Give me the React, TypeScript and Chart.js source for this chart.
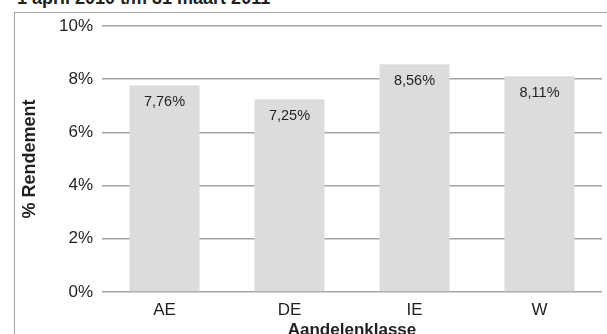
import React, { useEffect, useRef } from "react";
import { Chart, registerables } from "chart.js";

Chart.register(...registerables);

const categories = ["AE", "DE", "IE", "W"];
const returns = [7.76, 7.25, 8.56, 8.11];
const returnLabels = ["7,76%", "7,25%", "8,56%", "8,11%"];
const yTicks = [0, 2, 4, 6, 8, 10];
const titleText = "1 april 2010 t/m 31 maart 2011";
const yTitle = "% Rendement";
const xTitle = "Aandelenklasse";

const FONT = "'Liberation Sans', Arial, Helvetica, sans-serif";
const TEXT = "#231f20";

const barLabelPlugin = {
  id: "barLabels",
  afterDatasetsDraw(chart: any) {
    const ctx = chart.ctx;
    const meta = chart.getDatasetMeta(0);
    ctx.save();
    ctx.font = `14.5px ${FONT}`;
    ctx.fillStyle = TEXT;
    ctx.textAlign = "center";
    ctx.textBaseline = "middle";
    meta.data.forEach((bar: any, i: number) => {
      ctx.fillText(returnLabels[i], bar.x, bar.y + 16.5);
    });
    ctx.restore();
  },
};

export default function App() {
  const ref = useRef<HTMLCanvasElement>(null);
  useEffect(() => {
    if (!ref.current) return;
    const chart = new Chart(ref.current, {
      type: "bar",
      data: {
        labels: categories,
        datasets: [
          {
            data: returns,
            backgroundColor: "#dcdcde",
            borderWidth: 0,
            categoryPercentage: 1,
            barPercentage: 0.56,
          },
        ],
      },
      options: {
        responsive: false,
        animation: false,
        layout: { padding: { top: 26, right: 5, left: 0, bottom: 0 } },
        plugins: { legend: { display: false }, tooltip: { enabled: false }, title: { display: false } },
        scales: {
          x: {
            grid: { display: false },
            border: { display: false },
            ticks: { font: { size: 17, family: FONT }, color: TEXT, padding: 0 },
            title: {
              display: true,
              text: xTitle,
              font: { size: 17, weight: "bold", family: FONT },
              color: TEXT,
              padding: { top: 0, bottom: 4 },
            },
            afterFit: (s: any) => {
              s.height = 53;
            },
          },
          y: {
            min: 0,
            max: 10,
            afterBuildTicks: (s: any) => {
              s.ticks = yTicks.map((v) => ({ value: v }));
            },
            grid: { color: "#a3a3a3", lineWidth: 1.5, drawTicks: false },
            border: { display: false },
            ticks: {
              font: { size: 17, family: FONT },
              color: TEXT,
              padding: 9,
              callback: (v: any) => v + "%",
            },
            title: {
              display: true,
              text: yTitle,
              font: { size: 18, weight: "bold", family: FONT },
              color: TEXT,
              padding: { top: 19, bottom: 0 },
            },
            afterFit: (s: any) => {
              s.width = 102;
            },
          },
        },
      },
      plugins: [barLabelPlugin],
    });
    return () => chart.destroy();
  }, []);

  return (
    <div style={{ position: "fixed", left: 0, top: 0, width: 607, height: 334, overflow: "hidden", background: "#fff" }}>
      <div
        style={{
          position: "absolute",
          left: 17,
          top: -11.5,
          fontFamily: FONT,
          fontWeight: "bold",
          fontSize: 18,
          lineHeight: "18px",
          color: TEXT,
          whiteSpace: "nowrap",
        }}
      >
        {titleText}
      </div>
      <div
        style={{
          position: "absolute",
          left: 14,
          top: 12,
          width: 700,
          height: 400,
          border: "1.5px solid #a6a6a6",
        }}
      />
      <canvas ref={ref} width={607} height={345} style={{ position: "absolute", left: 0, top: 0 }} />
    </div>
  );
}
